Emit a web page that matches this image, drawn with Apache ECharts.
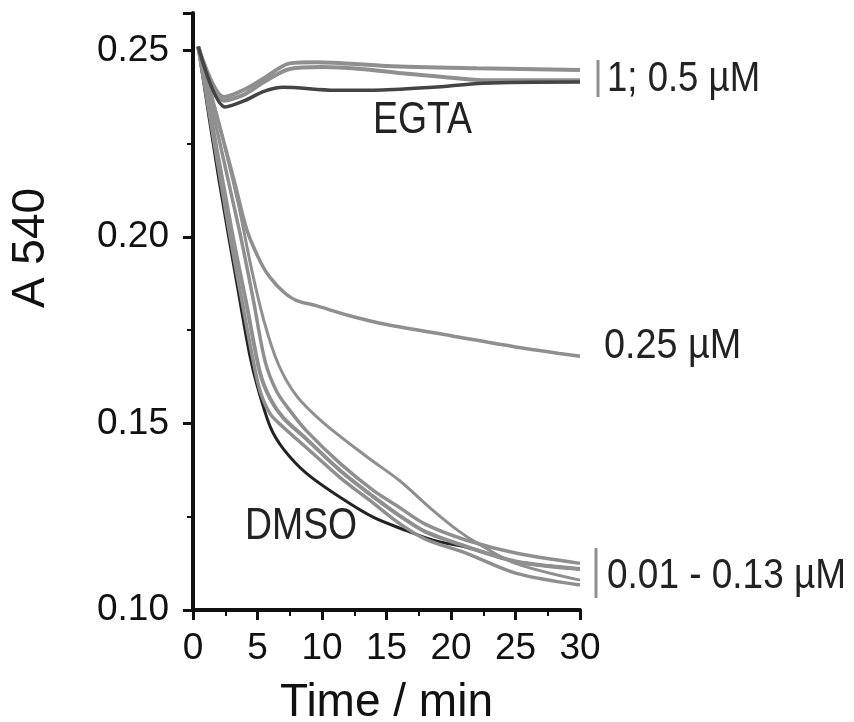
<!DOCTYPE html>
<html>
<head>
<meta charset="utf-8">
<script src="https://cdn.jsdelivr.net/npm/echarts@6/dist/echarts.min.js"></script>
<style>html,body{margin:0;padding:0;background:#fff}#c{width:854px;height:722px}</style>
</head>
<body>
<div id="c"></div>
<script>
// ---- data ----
const xTicks = [0, 5, 10, 15, 20, 25, 30];
const yTicks = [0.10, 0.15, 0.20, 0.25];

const egtaUpper = [[0.4,0.251],[2.4,0.2375],[4,0.2395],[5.5,0.2425],[7.5,0.2465],[9.6,0.2468],[15,0.2458],[22,0.2452],[30,0.2447]];
const egtaMiddle = [[0.4,0.251],[2.4,0.2365],[4,0.2382],[5.5,0.2415],[7.5,0.245],[10,0.2455],[13,0.245],[16,0.2439],[19,0.243],[22.5,0.242],[30,0.242]];
const egtaLower = [[0.4,0.251],[2.5,0.2348],[4,0.2365],[5.5,0.239],[7,0.2401],[11,0.2393],[14,0.2393],[18.6,0.2401],[22.5,0.2412],[30,0.2415]];
const conc025 = [[0.4,0.251],[2,0.2305],[3.2,0.215],[4.2,0.2016],[5.3,0.1928],[6,0.189],[7,0.1853],[8,0.183],[9.6,0.1815],[12,0.179],[15,0.1765],[20,0.1735],[25,0.1705],[30,0.168]];
const lowA = [[0.4,0.251],[2,0.2305],[3.5,0.209],[4.5,0.192],[5.5,0.1775],[6.6,0.166],[8,0.1575],[10,0.1505],[13.5,0.141],[16,0.1347],[18.6,0.1267],[20.5,0.1214],[22,0.118],[25,0.1125],[30,0.108]];
const lowB = [[0.4,0.251],[3.6,0.2016],[4.65,0.1836],[5.6,0.1665],[6.5,0.1585],[7.5,0.1535],[8.8,0.148],[11.4,0.1393],[14,0.132],[16,0.1275],[18,0.123],[21.2,0.1187],[25.1,0.1152],[30,0.1125]];
const lowC = [[0.4,0.251],[3,0.2016],[4.2,0.181],[5.2,0.1635],[6,0.1565],[7,0.1515],[8.8,0.1458],[11.4,0.1374],[14,0.1303],[16,0.1253],[18,0.121],[21.2,0.117],[25,0.113],[30,0.111]];
const lowD = [[0.4,0.251],[2.8,0.2016],[4.0,0.179],[4.6,0.168],[5.2,0.1587],[6,0.1525],[7,0.149],[8.8,0.1435],[11.4,0.1355],[14,0.1286],[16,0.1232],[18,0.119],[21.2,0.1152],[25,0.1099],[30,0.1067]];
const dmso = [[0.4,0.251],[2,0.2155],[3.6,0.1836],[4.4,0.1683],[5,0.1598],[6,0.149],[7,0.1432],[8.8,0.1366],[11.4,0.1302],[14,0.1248],[16.6,0.1212],[18.6,0.1187],[21.2,0.1168],[25,0.113],[30,0.111]];

const FONT = '"Liberation Sans", Arial, sans-serif';
const GREY = '#8f8f8f';

function line(name, data, color, width, z) {
  return { name, type: 'line', data, smooth: 0.3, showSymbol: false, symbol: 'none',
    lineStyle: { color, width }, z: z || 2, animation: false };
}

const chart = echarts.init(document.getElementById('c'), null, { renderer: 'canvas' });
chart.setOption({
  backgroundColor: '#fff',
  animation: false,
  grid: { left: 193, right: 274, top: 13, bottom: 112, containLabel: false, outerBoundsMode: 'none' },
  xAxis: {
    type: 'value', min: 0, max: 30, interval: 5,
    name: 'Time / min', nameLocation: 'middle', nameGap: 70,
    nameTextStyle: { fontFamily: FONT, fontSize: 46, color: '#111' },
    axisLine: { lineStyle: { color: '#111', width: 4 } },
    axisTick: { length: 10, lineStyle: { color: '#111', width: 3 } },
    minorTick: { show: true, splitNumber: 2, length: 6, lineStyle: { color: '#111', width: 2 } },
    axisLabel: { fontFamily: FONT, fontSize: 37, color: '#111', margin: 20,
      formatter: v => xTicks.includes(v) ? String(v) : '' },
    splitLine: { show: false }
  },
  yAxis: {
    type: 'value', min: 0.10, max: 0.26, interval: 0.05,
    axisLine: { show: true, lineStyle: { color: '#111', width: 4 } },
    axisTick: { show: true, length: 10, lineStyle: { color: '#111', width: 3 } },
    minorTick: { show: true, splitNumber: 2, length: 6, lineStyle: { color: '#111', width: 2 } },
    axisLabel: { fontFamily: FONT, fontSize: 37, color: '#111', margin: 24, showMaxLabel: false,
      formatter: v => yTicks.some(t => Math.abs(t - v) < 1e-9) ? v.toFixed(2) : '' },
    splitLine: { show: false }
  },
  series: [
    line('DMSO', dmso, '#222', 3, 1),
    line('EGTA upper', egtaUpper, GREY, 4),
    line('EGTA middle', egtaMiddle, GREY, 4),
    line('EGTA', egtaLower, '#444', 3.5, 3),
    line('0.25 µM', conc025, GREY, 3.5),
    line('low A', lowA, GREY, 3),
    line('low B', lowB, GREY, 3.5),
    line('low C', lowC, GREY, 4),
    line('low D', lowD, GREY, 3.5)
  ],
  graphic: [
    { type: 'text', x: 31, y: 248, rotation: Math.PI / 2,
      style: { text: 'A 540', font: '46px ' + FONT, fill: '#111', align: 'center', verticalAlign: 'middle' } },
    { type: 'text', x: 373, y: 99, scaleX: 0.85, style: { text: 'EGTA', font: '44px ' + FONT, fill: '#222' } },
    { type: 'text', x: 245, y: 505, scaleX: 0.85, style: { text: 'DMSO', font: '44px ' + FONT, fill: '#222' } },
    { type: 'line', shape: { x1: 598, y1: 60, x2: 598, y2: 97 }, style: { stroke: GREY, lineWidth: 3 } },
    { type: 'text', x: 607, y: 58, scaleX: 0.87, style: { text: '1; 0.5 µM', font: '42px ' + FONT, fill: '#222' } },
    { type: 'text', x: 604, y: 325, scaleX: 0.9, style: { text: '0.25 µM', font: '42px ' + FONT, fill: '#222' } },
    { type: 'line', shape: { x1: 596, y1: 548, x2: 596, y2: 598 }, style: { stroke: GREY, lineWidth: 3 } },
    { type: 'text', x: 607, y: 555, scaleX: 0.88, style: { text: '0.01 - 0.13 µM', font: '42px ' + FONT, fill: '#222' } }
  ]
});
</script>
</body>
</html>
